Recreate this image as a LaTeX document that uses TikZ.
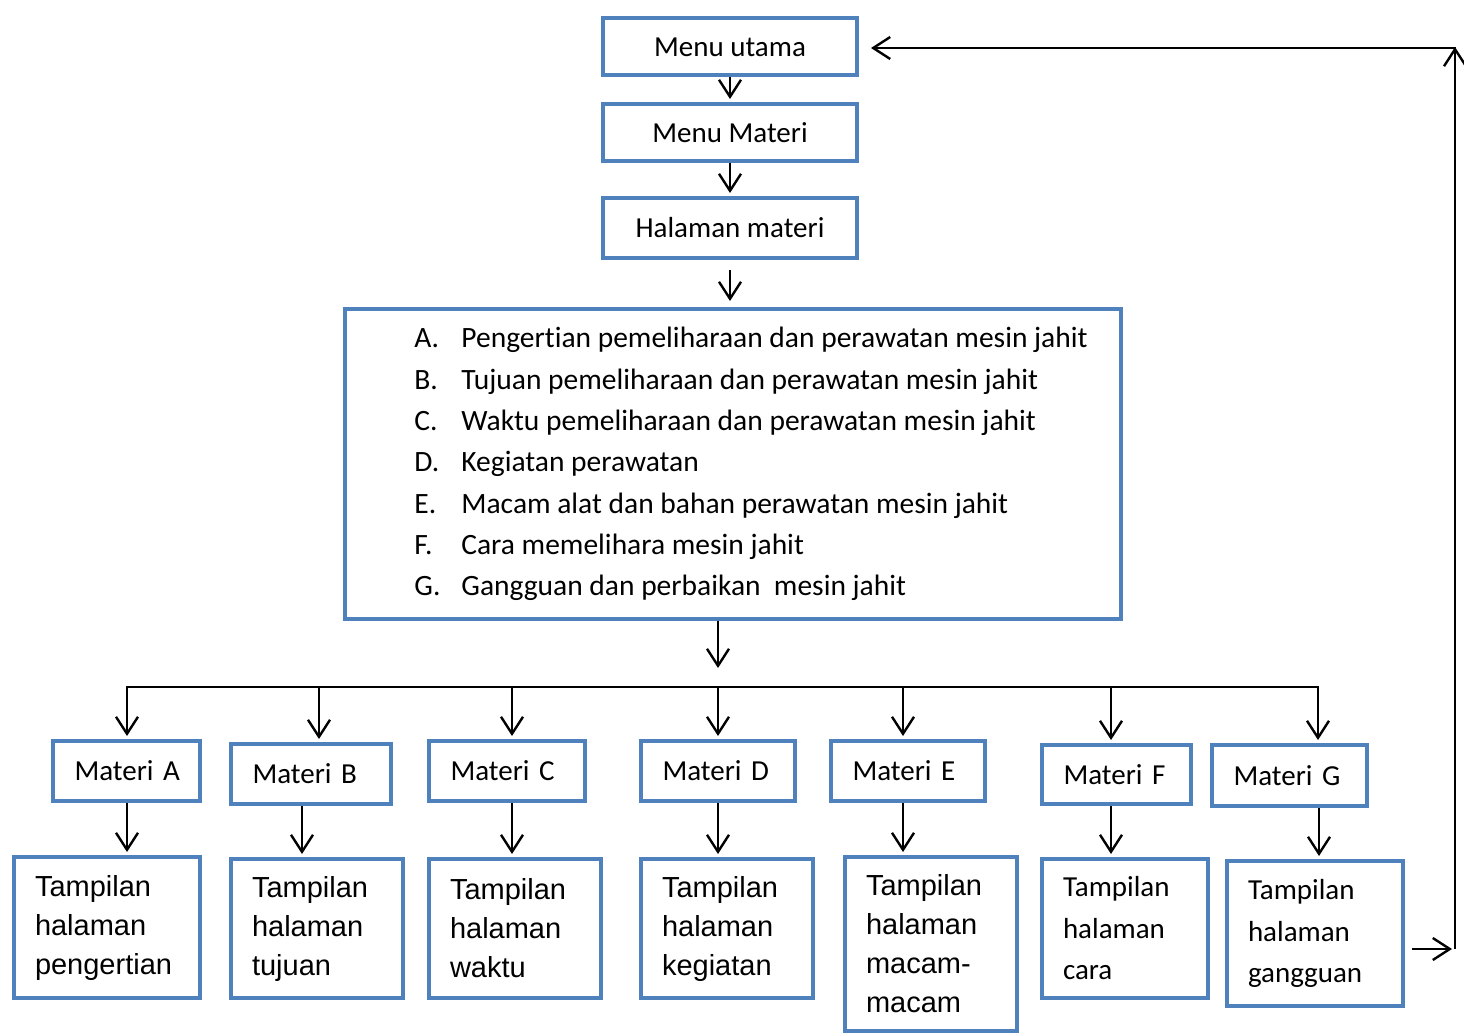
\documentclass[tikz,border=0pt]{standalone}
\usepackage{fontspec}
\setmainfont{Carlito}[Ligatures=NoCommon]
\newfontfamily\arialfont{Liberation Sans}
\usetikzlibrary{arrows.meta}
\definecolor{boxblue}{HTML}{4F81BD}
\newcommand{\itm}[2]{\hspace*{36pt}\makebox[47pt][l]{#1}#2}

\begin{document}
\begin{tikzpicture}[x=1pt,y=-1pt,
    box/.style={draw=boxblue,line width=4pt,inner sep=0pt},
    topbox/.style={box,minimum width=254pt,font=\fontsize{29pt}{35pt}\selectfont},
    matbox/.style={box,align=left,inner xsep=21.5pt,minimum height=60pt,font=\fontsize{29pt}{35pt}\selectfont},
    viewbox/.style={box,align=left,inner xsep=21pt,font=\arialfont\fontsize{29pt}{39pt}\selectfont},
    viewboxc/.style={box,align=left,inner xsep=21pt,font=\fontsize{29pt}{41.5pt}\selectfont},
    arr/.style={-{Straight Barb[length=17pt,width=22pt]},line width=2.4pt,shorten >=3pt}]
        \fill[white] (0,0) rectangle (1464,1035);
        \useasboundingbox (0,0) rectangle (1464,1035);
        % Top boxes
        \node[topbox,minimum height=57pt] (mu) at (730,47) {Menu utama};
        \node[topbox,minimum height=57pt] (mm) at (730,132.5) {Menu Materi};
        \node[topbox,minimum height=60pt] (hm) at (730,228) {Halaman materi};
        % List of materi
        \node[box,minimum width=776pt,minimum height=310pt,align=left,
              font=\fontsize{29.5pt}{41.3pt}\selectfont] (list) at (733,464)
            {\itm{A.}{Pengertian pemeliharaan dan perawatan mesin jahit}\\
             \itm{B.}{Tujuan pemeliharaan dan perawatan mesin jahit}\\
             \itm{C.}{Waktu pemeliharaan dan perawatan mesin jahit}\\
             \itm{D.}{Kegiatan perawatan}\\
             \itm{E.}{Macam alat dan bahan perawatan mesin jahit}\\
             \itm{F.}{Cara memelihara mesin jahit}\\
             \itm{G.}{Gangguan dan perbaikan~ mesin jahit}};
        % Materi boxes
        \node[matbox,text width=104pt] (ma) at (126.5,771) {\mbox{Materi A}};
        \node[matbox,text width=117pt] (mb) at (311,774) {\mbox{Materi B}};
        \node[matbox,text width=113pt] (mc) at (507,771) {\mbox{Materi C}};
        \node[matbox,text width=111pt] (md) at (718,771) {\mbox{Materi D}};
        \node[matbox,text width=111pt] (me) at (908,771) {\mbox{Materi E}};
        \node[matbox,text width=106pt,minimum height=59pt] (mf) at (1116.5,774.5) {\mbox{Materi F}};
        \node[matbox,text width=112pt,minimum height=61pt] (mg) at (1289.5,775.5) {\mbox{Materi G}};
        % Tampilan boxes
        \node[viewbox,text width=144pt,minimum height=141pt] (ta) at (107,927.5) {Tampilan\\halaman\\pengertian};
        \node[viewbox,text width=130pt,minimum height=139pt] (tb) at (317,928.5) {Tampilan\\halaman\\tujuan};
        \node[viewbox,text width=130pt,minimum height=139pt] (tc) at (515,928.5) {Tampilan\\halaman\\waktu};
        \node[viewbox,text width=130pt,minimum height=139pt] (td) at (727,928.5) {Tampilan\\halaman\\kegiatan};
        \node[viewbox,text width=130pt,minimum height=174pt] (te) at (931,944) {Tampilan\\halaman\\macam-\\macam};
        \node[viewboxc,text width=124pt,minimum height=139pt] (tf) at (1125,928.5) {Tampilan\\halaman\\cara};
        \node[viewboxc,text width=134pt,minimum height=145pt] (tg) at (1315,933.5) {Tampilan\\halaman\\gangguan};
        % Arrows down the top
        \draw[arr] (mu) -- (mm);
        \draw[arr] (mm) -- (hm);
        \draw[arr,shorten <=10pt,shorten >=6pt] (hm) -- (hm |- list.north);
        % Branch line
        \coordinate (drop) at (718,668);
        \coordinate (busL) at (127,687);
        \coordinate (busR) at (1318,687);
        \draw[arr,shorten >=0pt] (list.south -| drop) -- (drop);
        \draw[line width=2.4pt,line cap=rect] (busL) -- (busR);
        \foreach \n/\x in {ma/127,mb/319,mc/512,md/718,me/903,mf/1111,mg/1318}
            \draw[arr] (busL -| \x,0) -- (\n.north -| \x,0);
        \foreach \m/\t/\x in {ma/ta/127,mb/tb/302,mc/tc/512,md/td/718,me/te/903,mf/tf/1111,mg/tg/1319}
            \draw[arr] (\m.south -| \x,0) -- (\t.north -| \x,0);
        % Back to Menu utama
        \coordinate (backB) at (1455,949);
        \coordinate (backT) at (1455,48);
        \draw[arr,shorten <=7pt] (tg.east |- backB) -- (backB);
        \draw[arr,shorten >=-1pt] (backB) -- (backT);
        \draw[arr,shorten >=12pt] ([xshift=1pt]backT) -- (mu.east |- backT);
\end{tikzpicture}
\end{document}
